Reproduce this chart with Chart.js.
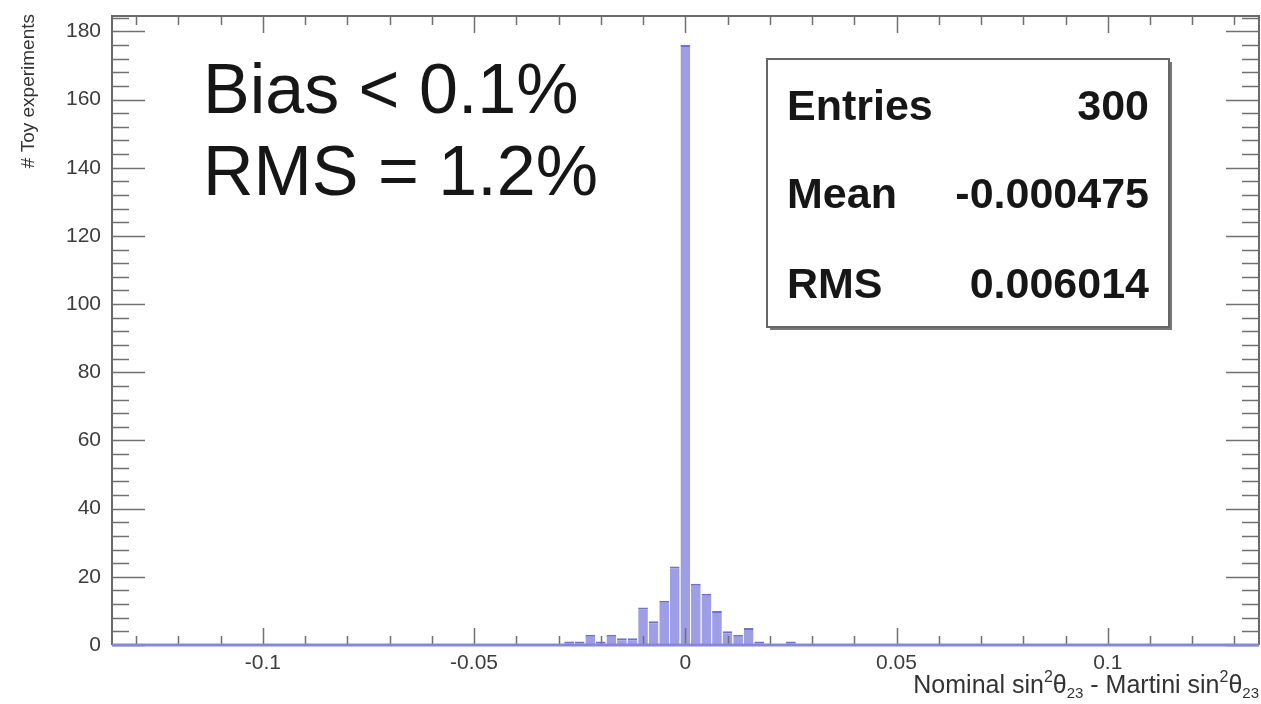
<!DOCTYPE html>
<html>
<head>
<meta charset="utf-8">
<script src="https://cdn.jsdelivr.net/npm/chart.js@4/dist/chart.umd.min.js"></script>
<style>
  html, body { margin: 0; padding: 0; background: #ffffff; }
  canvas { display: block; }
</style>
</head>
<body>
<canvas id="c" width="1261" height="704"></canvas>
<script>
// ---- data ----
const binCenters = [-0.0275, -0.025, -0.0225, -0.02, -0.0175, -0.015, -0.0125, -0.01, -0.0075, -0.005, -0.0025,
                    0, 0.0025, 0.005, 0.0075, 0.01, 0.0125, 0.015, 0.0175, 0.02, 0.0225, 0.025];
const counts     = [1, 1, 3, 1, 3, 2, 2, 11, 7, 13, 23,
                    176, 18, 15, 10, 4, 3, 5, 1, 0, 0, 1];
const xTickValues = [-0.1, -0.05, 0, 0.05, 0.1];
const xTickLabels = ['-0.1', '-0.05', '0', '0.05', '0.1'];
const yTickValues = [0, 20, 40, 60, 80, 100, 120, 140, 160, 180];
const yTickLabels = ['0', '20', '40', '60', '80', '100', '120', '140', '160', '180'];
const statNames  = ['Entries', 'Mean', 'RMS'];
const statValues = ['300', '-0.000475', '0.006014'];
const noteLines  = ['Bias < 0.1%', 'RMS = 1.2%'];
const yTitle = '# Toy experiments';

const FONT = '"Liberation Sans", Arial, Helvetica, sans-serif';

const frameTicks = {
  id: 'frameTicks',
  afterDatasetsDraw(chart) {
    const c = chart.ctx, a = chart.chartArea;
    const xs = chart.scales.x, ys = chart.scales.y;
    c.save();
    c.strokeStyle = '#707070';
    c.lineWidth = 1.5;
    for (let v = 0; v <= ys.max + 1e-9; v += 4) {
      const y = Math.round(ys.getPixelForValue(v)) + 0.5;
      const major = Math.abs(v % 20) < 1e-9;
      const L = major ? 33 : 17;
      c.beginPath();
      c.moveTo(a.left, y); c.lineTo(a.left + L, y);
      c.moveTo(a.right, y); c.lineTo(a.right - L, y);
      c.stroke();
    }
    for (let k = -13; k <= 13; k++) {
      const v = k * 0.01;
      const x = Math.round(xs.getPixelForValue(v)) + 0.5;
      const major = k % 5 === 0;
      const L = major ? 17 : 9;
      c.beginPath();
      c.moveTo(x, a.bottom); c.lineTo(x, a.bottom - L);
      c.moveTo(x, a.top); c.lineTo(x, a.top + L);
      c.stroke();
    }
    c.strokeStyle = '#6a6a6a';
    c.lineWidth = 2;
    c.beginPath();
    c.moveTo(a.left, a.bottom); c.lineTo(a.left, a.top); c.lineTo(a.right, a.top); c.lineTo(a.right, a.bottom);
    c.stroke();
    c.strokeStyle = 'rgb(135,135,215)';
    c.lineWidth = 3;
    c.beginPath();
    c.moveTo(a.left, a.bottom); c.lineTo(a.right, a.bottom);
    c.stroke();
    c.restore();
  },
  afterDraw(chart) {
    const c = chart.ctx;
    c.save();
    c.fillStyle = '#333';
    c.font = '19px ' + FONT;
    c.translate(29, 14);
    c.rotate(-Math.PI / 2);
    c.textAlign = 'right';
    c.textBaseline = 'middle';
    c.fillText(yTitle, 0, 0);
    c.restore();

    c.save();
    c.fillStyle = '#333';
    const parts = [
      ['Nominal sin', 25, 0], ['2', 16, -11], ['\u03B8', 25, 0], ['23', 15, 5],
      [' - Martini sin', 25, 0], ['2', 16, -11], ['\u03B8', 25, 0], ['23', 15, 5]
    ];
    let total = 0;
    parts.forEach(p => { c.font = p[1] + 'px ' + FONT; total += c.measureText(p[0]).width; });
    let x = 1259 - total;
    c.textBaseline = 'alphabetic';
    c.textAlign = 'left';
    parts.forEach(p => { c.font = p[1] + 'px ' + FONT; c.fillText(p[0], x, 693 + p[2]); x += c.measureText(p[0]).width; });
    c.restore();

    c.save();
    c.fillStyle = '#161616';
    c.font = '70px ' + FONT;
    c.textAlign = 'left';
    c.textBaseline = 'alphabetic';
    c.fillText(noteLines[0], 203, 113);
    c.fillText(noteLines[1], 203, 195);
    c.restore();

    c.save();
    const bx = 767, by = 59, bw = 402, bh = 268;
    c.fillStyle = '#777';
    c.fillRect(bx + 3, by + 3, bw, bh);
    c.fillStyle = '#fff';
    c.fillRect(bx, by, bw, bh);
    c.strokeStyle = '#666';
    c.lineWidth = 2;
    c.strokeRect(bx, by, bw, bh);
    c.fillStyle = '#161616';
    c.font = 'bold 43px ' + FONT;
    c.textBaseline = 'alphabetic';
    const baselines = [120, 208, 298];
    statNames.forEach((n, i) => {
      c.textAlign = 'left';
      c.fillText(n, 787, baselines[i]);
      c.textAlign = 'right';
      c.fillText(statValues[i], 1149, baselines[i]);
    });
    c.restore();
  }
};

new Chart(document.getElementById('c'), {
  type: 'bar',
  data: {
    datasets: [{
      data: binCenters.map((x, i) => ({ x: x, y: counts[i] })),
      backgroundColor: 'rgb(158,158,232)',
      borderColor: 'rgb(112,112,210)',
      borderWidth: { top: 2, left: 0, right: 0, bottom: 0 },
      borderSkipped: 'bottom',
      barPercentage: 0.92,
      categoryPercentage: 1.0
    }]
  },
  options: {
    responsive: false,
    animation: false,
    events: [],
    layout: { padding: { top: 16, right: 2, left: 0, bottom: 0 } },
    plugins: { legend: { display: false }, tooltip: { enabled: false }, title: { display: false } },
    scales: {
      x: {
        type: 'linear',
        min: -0.1357,
        max: 0.1358,
        offset: false,
        grid: { display: false, drawTicks: false },
        border: { display: false },
        afterBuildTicks: s => { s.ticks = xTickValues.map(v => ({ value: v })); },
        afterFit: s => { s.height = 59; s.paddingLeft = 0; s.paddingRight = 0; },
        ticks: {
          autoSkip: false,
          maxRotation: 0,
          padding: 6,
          color: '#3c3c3c',
          font: { family: FONT, size: 21 },
          callback: (v, i) => xTickLabels[i]
        }
      },
      y: {
        min: 0,
        max: 184.5,
        grid: { display: false, drawTicks: false },
        border: { display: false },
        afterBuildTicks: s => { s.ticks = yTickValues.map(v => ({ value: v })); },
        afterFit: s => { s.width = 112; s.paddingTop = 0; s.paddingBottom = 0; },
        ticks: {
          autoSkip: false,
          padding: 11,
          color: '#3c3c3c',
          font: { family: FONT, size: 21 },
          callback: (v, i) => yTickLabels[i]
        }
      }
    }
  },
  plugins: [frameTicks]
});
</script>
</body>
</html>
